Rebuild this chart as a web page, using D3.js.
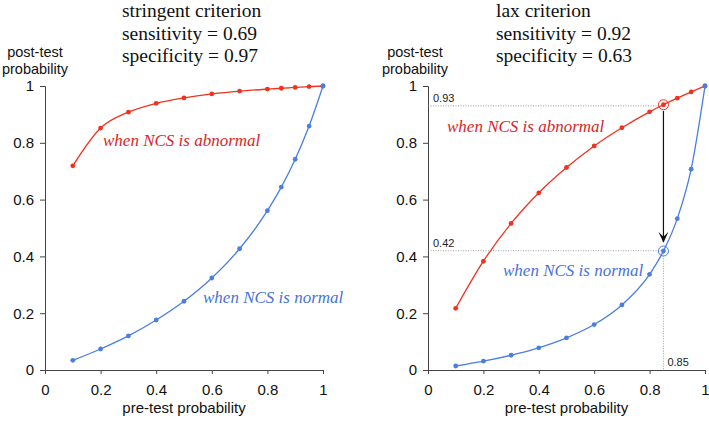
<!DOCTYPE html>
<html><head><meta charset="utf-8">
<script src="https://cdn.jsdelivr.net/npm/d3@7/dist/d3.min.js"></script>
<style>body{margin:0;background:#fff;} svg{display:block;}</style>
</head><body>
<svg id="chart" width="709" height="423"></svg>
<script>
// ---- data ----
const preTest = [0.1, 0.2, 0.3, 0.4, 0.5, 0.6, 0.7, 0.8, 0.85, 0.9, 0.95, 1.0];
const stringentAbnormal = [0.719, 0.852, 0.908, 0.939, 0.958, 0.972, 0.982, 0.989, 0.992, 0.995, 0.998, 1.0];
const stringentNormal   = [0.034, 0.074, 0.120, 0.176, 0.242, 0.324, 0.427, 0.561, 0.644, 0.742, 0.859, 1.0];
const laxAbnormal = [0.217, 0.383, 0.516, 0.624, 0.713, 0.789, 0.853, 0.909, 0.934, 0.957, 0.979, 1.0];
const laxNormal   = [0.014, 0.031, 0.052, 0.078, 0.113, 0.160, 0.229, 0.337, 0.419, 0.533, 0.707, 1.0];
const tickValues = [0, 0.2, 0.4, 0.6, 0.8, 1];
const tickLabels = ["0", "0.2", "0.4", "0.6", "0.8", "1"];
const panelTitles = [
  ["stringent criterion", "sensitivity = 0.69", "specificity = 0.97"],
  ["lax criterion", "sensitivity = 0.92", "specificity = 0.63"]
];
const highlightX = 0.85, highlightAbn = 0.93, highlightNorm = 0.42;
const highlightLabels = ["0.93", "0.42", "0.85"];

const RED = "#f0321e", BLUE = "#4a7ee0", RED_TXT = "#d8262a", BLUE_TXT = "#4a72d6";
const svg = d3.select("#chart");

const panels = [
  {x0: 45, x1: 323, titleX: 122, ytitleX: 35, abn: stringentAbnormal, nor: stringentNormal,
   abnLbl: [103, 146], norLbl: [203, 303], titles: panelTitles[0], highlight: false},
  {x0: 428, x1: 705, titleX: 496, ytitleX: 415, abn: laxAbnormal, nor: laxNormal,
   abnLbl: [447, 132], norLbl: [503, 276], titles: panelTitles[1], highlight: true}
];

panels.forEach(p => {
  const x = d3.scaleLinear().domain([0, 1]).range([p.x0, p.x1]);
  const y = d3.scaleLinear().domain([0, 1]).range([370, 86]);
  const g = svg.append("g");

  // axes
  const xa = g.append("g").attr("transform", "translate(0,370)")
    .call(d3.axisBottom(x).tickValues(tickValues).tickFormat((d, i) => tickLabels[i]).tickSizeOuter(0).tickSize(4).tickPadding(10));
  const ya = g.append("g").attr("transform", `translate(${p.x0},0)`)
    .call(d3.axisLeft(y).tickValues(tickValues).tickFormat((d, i) => tickLabels[i]).tickSizeOuter(0).tickSize(5).tickPadding(6));
  [xa, ya].forEach(a => {
    a.select(".domain").attr("stroke", "#444");
    a.selectAll(".tick line").attr("stroke", "#444");
    a.selectAll("text").attr("font-family", "Liberation Sans, Arial, sans-serif").attr("font-size", 15).attr("fill", "#111");
  });

  // titles
  p.titles.forEach((t, i) => {
    g.append("text").attr("x", p.titleX).attr("y", 17 + i * 22.5)
      .attr("font-family", "Liberation Serif, Times New Roman, serif").attr("font-size", 19.5).attr("fill", "#111").text(t);
  });
  g.append("text").attr("x", p.ytitleX).attr("y", 57).attr("text-anchor", "middle")
    .attr("font-family", "Liberation Sans, Arial, sans-serif").attr("font-size", 14.5).attr("fill", "#111").text("post-test");
  g.append("text").attr("x", p.ytitleX).attr("y", 74).attr("text-anchor", "middle")
    .attr("font-family", "Liberation Sans, Arial, sans-serif").attr("font-size", 14.5).attr("fill", "#111").text("probability");
  g.append("text").attr("x", (p.x0 + p.x1) / 2).attr("y", 413).attr("text-anchor", "middle")
    .attr("font-family", "Liberation Sans, Arial, sans-serif").attr("font-size", 15).attr("fill", "#111").text("pre-test probability");

  // highlight guides
  if (p.highlight) {
    const hx = x(highlightX);
    g.append("line").attr("x1", p.x0).attr("x2", hx).attr("y1", y(highlightAbn)).attr("y2", y(highlightAbn))
      .attr("stroke", "#888").attr("stroke-width", 0.8).attr("stroke-dasharray", "1,1.5");
    g.append("line").attr("x1", p.x0).attr("x2", hx).attr("y1", y(highlightNorm)).attr("y2", y(highlightNorm))
      .attr("stroke", "#888").attr("stroke-width", 0.8).attr("stroke-dasharray", "1,1.5");
    g.append("line").attr("x1", hx).attr("x2", hx).attr("y1", y(highlightNorm)).attr("y2", y(0))
      .attr("stroke", "#888").attr("stroke-width", 0.8).attr("stroke-dasharray", "1,1.5");
    const sm = {"font-family": "Liberation Sans, Arial, sans-serif", "font-size": 11, "fill": "#222"};
    const t1 = g.append("text").attr("x", p.x0 + 5).attr("y", y(highlightAbn) - 4).text(highlightLabels[0]);
    const t2 = g.append("text").attr("x", p.x0 + 5).attr("y", y(highlightNorm) - 4).text(highlightLabels[1]);
    const t3 = g.append("text").attr("x", hx + 4).attr("y", 366).text(highlightLabels[2]);
    [t1, t2, t3].forEach(t => Object.entries(sm).forEach(([k, v]) => t.attr(k, v)));
    // arrow
    g.append("line").attr("x1", hx).attr("x2", hx).attr("y1", y(highlightAbn) + 5).attr("y2", y(highlightNorm) - 9)
      .attr("stroke", "#111").attr("stroke-width", 1.2);
    const tipY = y(highlightNorm) - 8;
    g.append("path").attr("d", `M${hx - 5},${tipY - 11} L${hx},${tipY} L${hx + 5},${tipY - 11} L${hx},${tipY - 6} Z`)
      .attr("fill", "#111");
  }

  const line = d3.line().x((d, i) => x(preTest[i])).y(d => y(d)).curve(d3.curveMonotoneX);
  [[p.abn, RED], [p.nor, BLUE]].forEach(([vals, col]) => {
    g.append("path").attr("d", line(vals)).attr("fill", "none").attr("stroke", col).attr("stroke-width", 1.3);
    g.selectAll(null).data(vals).enter().append("circle")
      .attr("cx", (d, i) => x(preTest[i])).attr("cy", d => y(d)).attr("r", 2.4).attr("fill", col);
  });

  if (p.highlight) {
    g.append("circle").attr("cx", x(highlightX)).attr("cy", y(p.abn[preTest.indexOf(highlightX)])).attr("r", 5)
      .attr("fill", "none").attr("stroke", RED).attr("stroke-width", 1);
    g.append("circle").attr("cx", x(highlightX)).attr("cy", y(p.nor[preTest.indexOf(highlightX)])).attr("r", 5)
      .attr("fill", "none").attr("stroke", BLUE).attr("stroke-width", 1);
  }

  g.append("text").attr("x", p.abnLbl[0]).attr("y", p.abnLbl[1])
    .attr("font-family", "Liberation Serif, Times New Roman, serif").attr("font-style", "italic").attr("font-size", 17)
    .attr("fill", RED_TXT).text("when NCS is abnormal");
  g.append("text").attr("x", p.norLbl[0]).attr("y", p.norLbl[1])
    .attr("font-family", "Liberation Serif, Times New Roman, serif").attr("font-style", "italic").attr("font-size", 17)
    .attr("fill", BLUE_TXT).text("when NCS is normal");
});
</script>
</body></html>
